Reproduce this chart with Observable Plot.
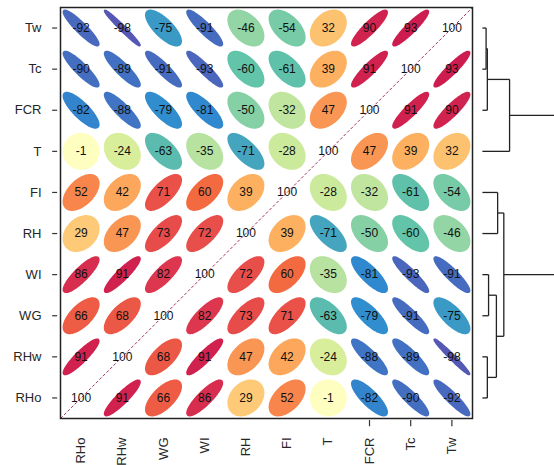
<!DOCTYPE html>
<html>
<head>
<meta charset="utf-8">
<script src="https://cdn.jsdelivr.net/npm/d3@7"></script>
<script src="https://cdn.jsdelivr.net/npm/@observablehq/plot@0.6"></script>
<style>
  html, body { margin: 0; padding: 0; background: #fff; }
  #chart { width: 554px; height: 465px; overflow: hidden; }
  #chart svg { overflow: hidden; }
</style>
</head>
<body>
<div id="chart"></div>
<script>
// Variables, in column order (left to right) and row order (bottom to top)
const variables = ["RHo", "RHw", "WG", "WI", "RH", "FI", "T", "FCR", "Tc", "Tw"];

// Pairwise correlations (x100), one row per variable, same order as `variables`
const corRHo = [100, 91, 66, 86, 29, 52, -1, -82, -90, -92];
const corRHw = [91, 100, 68, 91, 47, 42, -24, -88, -89, -98];
const corWG  = [66, 68, 100, 82, 73, 71, -63, -79, -91, -75];
const corWI  = [86, 91, 82, 100, 72, 60, -35, -81, -93, -91];
const corRH  = [29, 47, 73, 72, 100, 39, -71, -50, -60, -46];
const corFI  = [52, 42, 71, 60, 39, 100, -28, -32, -61, -54];
const corT   = [-1, -24, -63, -35, -71, -28, 100, 47, 39, 32];
const corFCR = [-82, -88, -79, -81, -50, -32, 47, 100, 91, 90];
const corTc  = [-90, -89, -91, -93, -60, -61, 39, 91, 100, 93];
const corTw  = [-92, -98, -75, -91, -46, -54, 32, 90, 93, 100];

// Columns that carry a tick mark on the bottom axis
const tickedColumns = ["FCR", "Tc", "Tw"];

// Hierarchical clustering of the variables (merge heights in distance units)
const mergeIds     = ["A", "B", "C", "D", "E", "F", "G", "H", "I"];
const mergeLeft    = ["Tw", "A", "B", "FI", "WI", "RHw", "E", "D", "C"];
const mergeRight   = ["Tc", "FCR", "T", "RH", "WG", "RHo", "F", "G", "H"];
const mergeHeights = [0.09, 0.12, 0.66, 0.37, 0.15, 0.12, 0.34, 0.52, 1.9];

// Spectral-style palette, blue for negative, red for positive correlation
const colorStops = [-100, -80, -60, -40, -20, 0, 20, 40, 60, 80, 100];
const colorRange = ["#5A52B2", "#2E8BD0", "#62C4A8", "#A8DCA2", "#E4F398", "#FFFFC2",
                    "#FEE08B", "#FDAE5E", "#F46A40", "#E03C50", "#C20A4E"];

const n = variables.length;
const corrRows = [corRHo, corRHw, corWG, corWI, corRH, corFI, corT, corFCR, corTc, corTw];

const cells = [];
corrRows.forEach((vals, row) => vals.forEach((value, col) => cells.push({row, col, value})));

// Ellipse outline for each off-diagonal cell (corrplot-style shape)
const steps = d3.range(100).map(k => k * 2 * Math.PI / 99);
const ellipsePoints = cells.filter(c => c.row !== c.col).flatMap(c => {
  const d = Math.acos(c.value / 100);
  return steps.map(k => ({
    key: c.row + "-" + c.col,
    value: c.value,
    x: c.col + 0.5 + 0.425 * Math.cos(k + d / 2),
    y: c.row + 0.5 + 0.425 * Math.cos(k - d / 2)
  }));
});

// Dendrogram segments
const node = {};
variables.forEach((v, i) => node[v] = {y: i + 0.5, h: 0});
const segments = [];
mergeIds.forEach((id, i) => {
  const a = node[mergeLeft[i]], b = node[mergeRight[i]], h = mergeHeights[i];
  segments.push({x1: a.h, y1: a.y, x2: h, y2: a.y});
  segments.push({x1: b.h, y1: b.y, x2: h, y2: b.y});
  segments.push({x1: h, y1: a.y, x2: h, y2: b.y});
  node[id] = {y: (a.y + b.y) / 2, h};
});
const treeBase = n + 0.24;

const labelFont = 13;
const labelColor = "#262626";

const chart = Plot.plot({
  width: 554,
  height: 465,
  marginLeft: 60,
  marginRight: 82,
  marginTop: 7,
  marginBottom: 47,
  x: {domain: [0, n], axis: null},
  y: {domain: [0, n], axis: null},
  color: {type: "linear", domain: colorStops, range: colorRange},
  style: {fontFamily: "'Liberation Sans', Arial, sans-serif", background: "white", overflow: "hidden"},
  marks: [
    Plot.line(ellipsePoints, {x: "x", y: "y", z: "key", fill: "value", stroke: "value", strokeWidth: 2, strokeLinejoin: "round"}),
    Plot.link([0], {x1: 0, y1: 0, x2: n, y2: n, stroke: "#9E1A52", strokeOpacity: 0.9, strokeWidth: 1, strokeDasharray: "3,2"}),
    Plot.text(cells, {
      x: c => c.col + 0.5, y: c => c.row + 0.5, text: c => String(c.value),
      fontSize: 12, fill: "#111"
    }),
    Plot.frame({stroke: "#222", strokeWidth: 1.5}),
    // row labels and ticks
    Plot.text(variables, {x: 0, y: (d, i) => i + 0.5, text: d => d, textAnchor: "end", dx: -19, fontSize: labelFont, fill: labelColor}),
    Plot.ruleY(variables, {y: (d, i) => i + 0.5, x1: -0.19, x2: -0.07, stroke: "#333", strokeWidth: 1.2}),
    // column labels and ticks
    Plot.text(variables, {x: (d, i) => i + 0.5, y: 0, text: d => d, rotate: -90, textAnchor: "end", dy: 19, fontSize: labelFont, fill: labelColor}),
    Plot.ruleX(tickedColumns, {x: d => variables.indexOf(d) + 0.5, y1: -0.05, y2: -0.2, stroke: "#333", strokeWidth: 1.2}),
    // dendrogram
    Plot.link(segments, {
      x1: d => treeBase + d.x1, y1: "y1", x2: d => treeBase + d.x2, y2: "y2",
      stroke: "#222", strokeWidth: 1.3
    })
  ]
});

document.getElementById("chart").append(chart);
</script>
</body>
</html>
